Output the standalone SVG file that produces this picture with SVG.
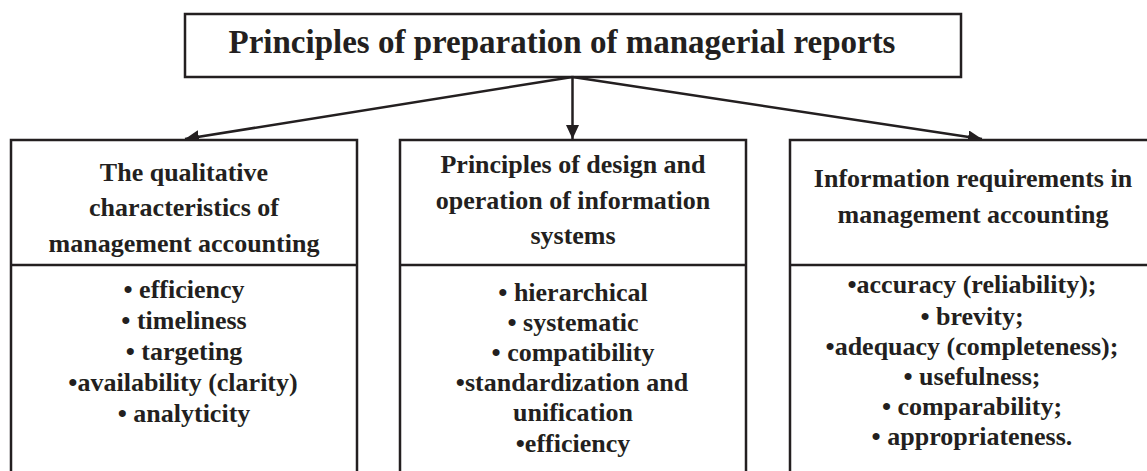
<svg xmlns="http://www.w3.org/2000/svg" width="1147" height="471" viewBox="0 0 1147 471">
  <style>
    .box { fill: #ffffff; stroke: #231f20; stroke-width: 2.5; }
    .sep { stroke: #231f20; stroke-width: 2.5; }
    .link { stroke: #231f20; stroke-width: 2.5; fill: none; }
    text { font-family: "Liberation Serif", "Times New Roman", serif; font-weight: bold; fill: #231f20; text-anchor: middle; }
    .title { font-size: 33px; }
    .head { font-size: 26px; }
    .item { font-size: 26px; }
  </style>
  <defs>
    <marker id="arrow" markerUnits="userSpaceOnUse" markerWidth="15" markerHeight="14" refX="14" refY="6.5" orient="auto">
      <path d="M0,0 L14,6.5 L0,13 z" fill="#231f20"/>
    </marker>
  </defs>

  <!-- root node -->
  <g id="root">
    <rect class="box" x="185" y="14" width="776" height="63"/>
    <text class="title" x="562" y="53">Principles of preparation of managerial reports</text>
  </g>

  <!-- connectors -->
  <g id="connectors">
    <line class="link" x1="572.5" y1="77" x2="185" y2="139" marker-end="url(#arrow)"/>
    <line class="link" x1="572.5" y1="77" x2="572.5" y2="139" marker-end="url(#arrow)"/>
    <line class="link" x1="572.5" y1="77" x2="982" y2="139" marker-end="url(#arrow)"/>
  </g>

  <!-- left column -->
  <g id="qualitative">
    <rect class="box" x="11" y="140" width="346" height="345"/>
    <line class="sep" x1="11" y1="265" x2="357" y2="265"/>
    <text class="head" x="184" y="181">The qualitative</text>
    <text class="head" x="184" y="216">characteristics of</text>
    <text class="head" x="184" y="252">management accounting</text>
    <text class="item" x="184" y="298">• efficiency</text>
    <text class="item" x="184" y="329">• timeliness</text>
    <text class="item" x="184" y="360">• targeting</text>
    <text class="item" x="183" y="391">•availability (clarity)</text>
    <text class="item" x="184" y="422">• analyticity</text>
  </g>

  <!-- middle column -->
  <g id="design">
    <rect class="box" x="400" y="140" width="346" height="345"/>
    <line class="sep" x1="400" y1="265" x2="746" y2="265"/>
    <text class="head" x="573" y="173">Principles of design and</text>
    <text class="head" x="573" y="209">operation of information</text>
    <text class="head" x="573" y="244">systems</text>
    <text class="item" x="573" y="301">• hierarchical</text>
    <text class="item" x="573" y="331">• systematic</text>
    <text class="item" x="573" y="361">• compatibility</text>
    <text class="item" x="572" y="391">•standardization and</text>
    <text class="item" x="573" y="421">unification</text>
    <text class="item" x="573" y="452">•efficiency</text>
  </g>

  <!-- right column -->
  <g id="requirements">
    <rect class="box" x="790" y="140" width="370" height="345"/>
    <line class="sep" x1="790" y1="265" x2="1160" y2="265"/>
    <text class="head" x="973" y="187">Information requirements in</text>
    <text class="head" x="973" y="223">management accounting</text>
    <text class="item" x="972" y="293">•accuracy (reliability);</text>
    <text class="item" x="972" y="325">• brevity;</text>
    <text class="item" x="972" y="355">•adequacy (completeness);</text>
    <text class="item" x="972" y="385">• usefulness;</text>
    <text class="item" x="972" y="415">• comparability;</text>
    <text class="item" x="972" y="445">• appropriateness.</text>
  </g>
</svg>
